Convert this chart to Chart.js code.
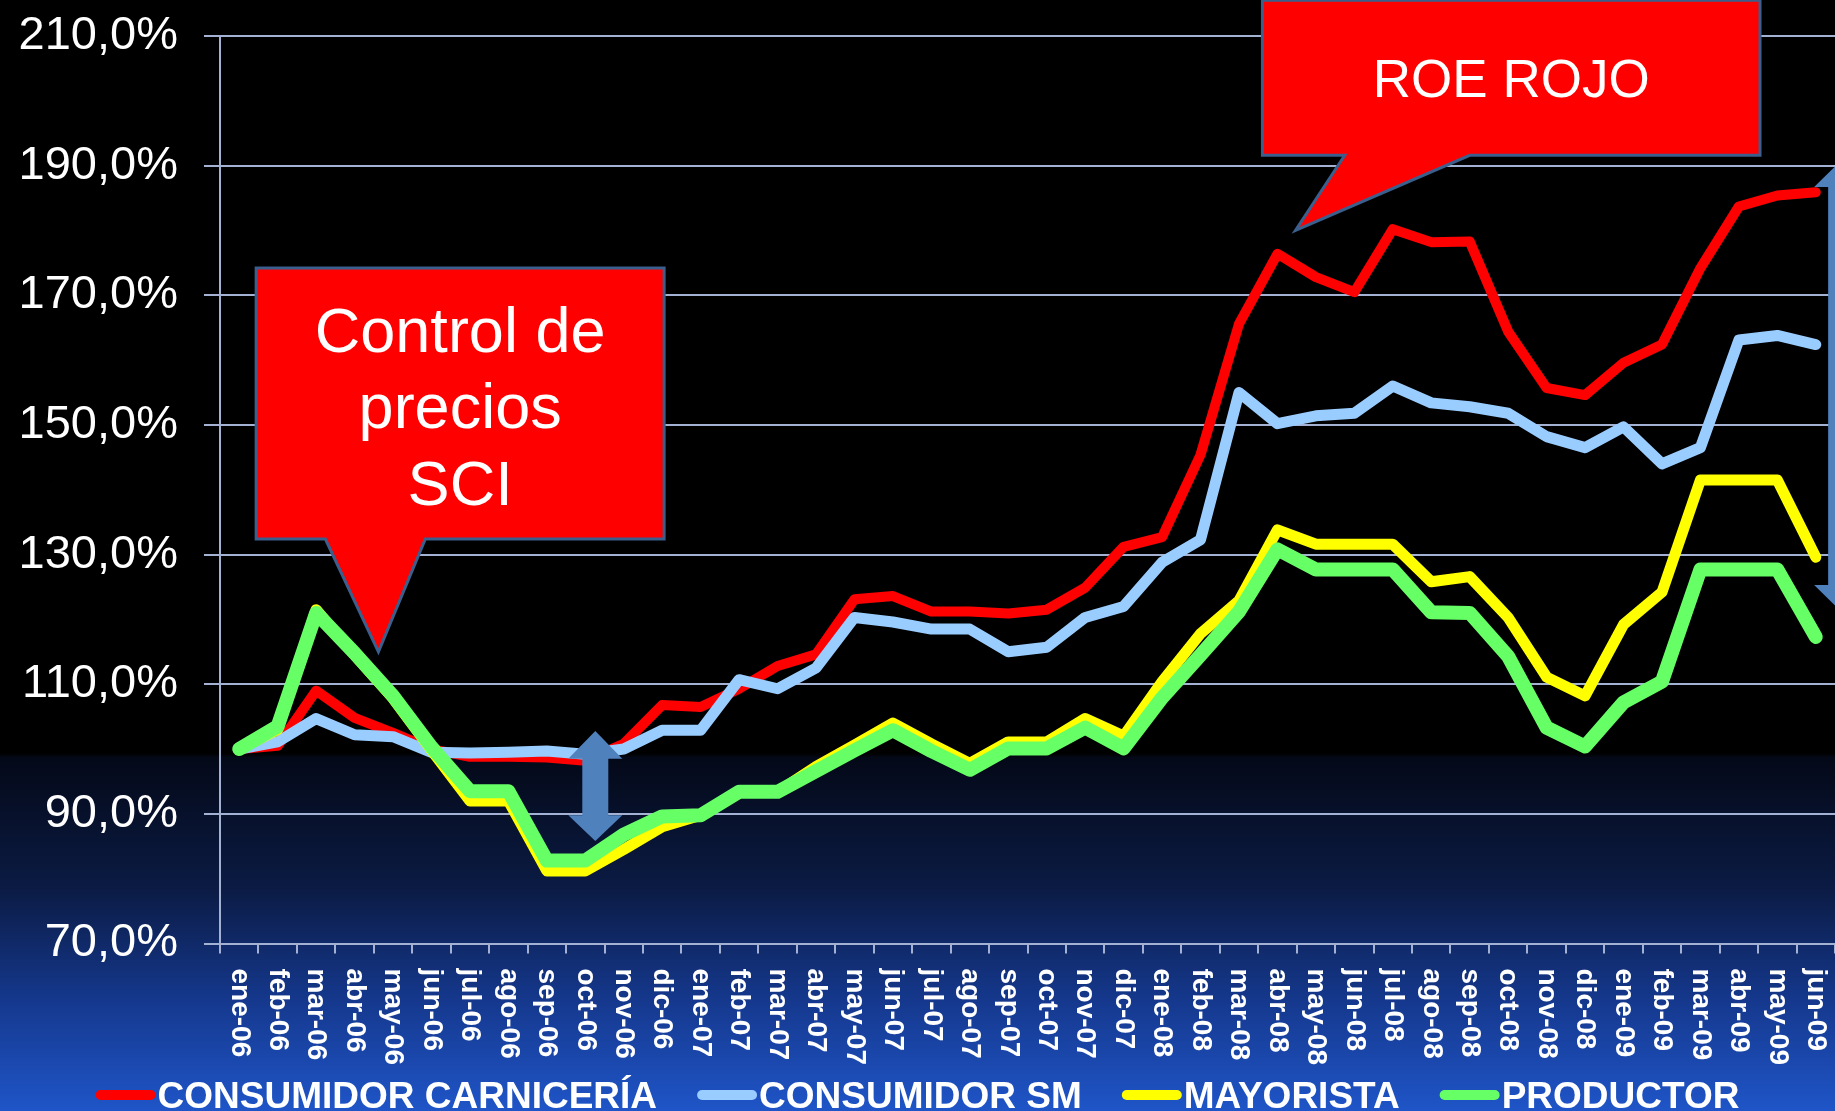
<!DOCTYPE html>
<html>
<head>
<meta charset="utf-8">
<script src="https://cdn.jsdelivr.net/npm/chart.js@4.4.1/dist/chart.umd.min.js"></script>
<style>
  html, body { margin: 0; padding: 0; background: #000; }
  #wrap { width: 1835px; height: 1111px; }
</style>
</head>
<body>
<div id="wrap"><canvas id="chart"></canvas></div>
<script>
// Month labels (x axis)
const months = [
    'ene-06', 'feb-06', 'mar-06', 'abr-06', 'may-06', 'jun-06', 'jul-06', 'ago-06', 'sep-06', 'oct-06', 'nov-06', 'dic-06',
    'ene-07', 'feb-07', 'mar-07', 'abr-07', 'may-07', 'jun-07', 'jul-07', 'ago-07', 'sep-07', 'oct-07', 'nov-07', 'dic-07',
    'ene-08', 'feb-08', 'mar-08', 'abr-08', 'may-08', 'jun-08', 'jul-08', 'ago-08', 'sep-08', 'oct-08', 'nov-08', 'dic-08',
    'ene-09', 'feb-09', 'mar-09', 'abr-09', 'may-09', 'jun-09'
];

// Series values (% of ene-06)
const consumidorCarniceria = [
    100, 100.5, 109, 104.8, 102.5, 100, 98.8, 98.8, 98.7, 98.2, 100.8, 106.8,
    106.5, 109.3, 112.8, 114.6, 123.1, 123.6, 121.2, 121.2, 120.9, 121.5, 124.9, 131.2,
    132.7, 145.4, 165.6, 176.4, 172.8, 170.5, 180.2, 178.2, 178.3, 164.4, 155.7, 154.6,
    159.6, 162.4, 174.2, 183.7, 185.4, 185.9
];
const consumidorSM = [
    100, 101.1, 104.7, 102.2, 101.9, 99.5, 99.4, 99.5, 99.7, 99.2, 100, 102.9,
    102.9, 110.7, 109.3, 112.5, 120.3, 119.6, 118.5, 118.5, 115, 115.7, 120.3, 122,
    128.8, 132.3, 155, 150.2, 151.4, 151.8, 156, 153.4, 152.8, 151.8, 148.2, 146.5,
    149.7, 144, 146.5, 163.1, 163.8, 162.4
];
const mayorista = [
    100, 103, 121.5, 114.5, 107.8, 99.8, 92, 92, 81.2, 81.2, 84.5, 88,
    89.8, 93.4, 93.4, 97.3, 100.6, 104, 100.8, 97.8, 101.1, 101.1, 104.7, 102,
    110.4, 117.8, 122.9, 133.8, 131.6, 131.6, 131.6, 125.8, 126.6, 120.3, 111.1, 108.2,
    119.2, 124.2, 141.5, 141.5, 141.5, 129.6
];
const productor = [
    100, 103.5, 121, 114.8, 108.2, 100.3, 93.5, 93.5, 82.8, 82.8, 86.8, 89.6,
    89.8, 93.4, 93.4, 96.6, 99.8, 102.9, 99.7, 96.8, 100.1, 100.1, 103.3, 100.1,
    107.9, 114.5, 121.2, 130.8, 127.7, 127.7, 127.7, 121.1, 121, 114.3, 103.3, 100.4,
    107.2, 110.4, 127.7, 127.7, 127.7, 117.3
];

// Y axis
const yMin = 70;
const yMax = 210;
const yStep = 20;

const FONT = "'Liberation Sans', Arial, sans-serif";
const gridColor = '#a3b2d2';

// Annotations, placed in data units (x = month index, y = %)
const callouts = [
    { lines: ['Control de', 'precios', 'SCI'], size: 63, offsets: [84, 160, 237],
      left: 0.44, right: 11.05, top: 174.2, bottom: 132.4,
      tailA: 2.24, tailB: 4.84, tipX: 3.62, tipY: 115.0 },
    { lines: ['ROE ROJO'], size: 53, offsets: [97],
      left: 26.61, right: 39.55, top: 215.5, bottom: 191.6,
      tailA: 28.75, tailB: 32.0, tipX: 27.47, tipY: 180.0 }
];
const arrows = [
    { x: 9.26, tip1: 102.8, head1: 98.5, head2: 89.8, tip2: 85.8 },
    { x: 41.66, tip1: 190.8, head1: 186.7, head2: 125.3, tip2: 121.2 }
];

// Background gradient
const bgPlugin = {
    id: 'bg',
    beforeDraw(chart) {
        const { ctx, width, height } = chart;
        const g = ctx.createLinearGradient(0, 0, 0, height);
        g.addColorStop(0, '#000000');
        g.addColorStop(0.678, '#000000');
        g.addColorStop(0.682, '#040918');
        g.addColorStop(0.80, '#0b1b44');
        g.addColorStop(0.90, '#15388d');
        g.addColorStop(1, '#1f55c8');
        ctx.save();
        ctx.fillStyle = g;
        ctx.fillRect(0, 0, width, height);
        ctx.restore();
    }
};

// Rotated month labels, legend, callouts and arrows
const overlayPlugin = {
    id: 'overlay',
    afterDraw(chart) {
        const { ctx } = chart;
        const xs = chart.scales.x;
        const ys = chart.scales.y;
        const X = v => xs.getPixelForValue(v);
        const Y = v => ys.getPixelForValue(v);

        // month labels, reading downwards
        ctx.save();
        ctx.fillStyle = '#ffffff';
        ctx.font = 'bold 28px ' + FONT;
        ctx.textAlign = 'left';
        ctx.textBaseline = 'middle';
        months.forEach((m, i) => {
            ctx.save();
            ctx.translate(X(i), chart.chartArea.bottom + 25);
            ctx.rotate(Math.PI / 2);
            ctx.fillText(m, 0, 0);
            ctx.restore();
        });
        ctx.restore();

        // legend
        ctx.save();
        ctx.font = 'bold 37px ' + FONT;
        ctx.textBaseline = 'alphabetic';
        const items = chart.data.datasets.map(ds => ({ label: ds.label, color: ds.borderColor, w: ctx.measureText(ds.label).width }));
        const markW = 60, markGap = 2, itemGap = 40;
        const total = items.reduce((s, it) => s + markW + markGap + it.w, 0) + itemGap * (items.length - 1);
        let x = (chart.width - total) / 2;
        const baseY = 1108;
        items.forEach(it => {
            ctx.strokeStyle = it.color;
            ctx.lineWidth = 10;
            ctx.lineCap = 'round';
            ctx.beginPath();
            ctx.moveTo(x + 5, baseY - 13);
            ctx.lineTo(x + markW - 5, baseY - 13);
            ctx.stroke();
            ctx.fillStyle = '#ffffff';
            ctx.fillText(it.label, x + markW + markGap, baseY);
            x += markW + markGap + it.w + itemGap;
        });
        ctx.restore();

        // callouts
        callouts.forEach(c => {
            const L = X(c.left), R = X(c.right), T = Y(c.top), B = Y(c.bottom);
            ctx.save();
            ctx.beginPath();
            ctx.moveTo(L, T);
            ctx.lineTo(R, T);
            ctx.lineTo(R, B);
            ctx.lineTo(X(c.tailB), B);
            ctx.lineTo(X(c.tipX), Y(c.tipY));
            ctx.lineTo(X(c.tailA), B);
            ctx.lineTo(L, B);
            ctx.closePath();
            ctx.fillStyle = '#ff0000';
            ctx.fill();
            ctx.strokeStyle = '#3b5f8d';
            ctx.lineWidth = 3;
            ctx.lineJoin = 'miter';
            ctx.stroke();
            ctx.fillStyle = '#ffffff';
            ctx.font = c.size + 'px ' + FONT;
            ctx.textAlign = 'center';
            ctx.textBaseline = 'alphabetic';
            c.lines.forEach((line, k) => ctx.fillText(line, (L + R) / 2, T + c.offsets[k]));
            ctx.restore();
        });

        // double arrows
        arrows.forEach(a => {
            const cx = X(a.x), hw = 27, sw = 13;
            const t1 = Y(a.tip1), h1 = Y(a.head1), h2 = Y(a.head2), t2 = Y(a.tip2);
            ctx.save();
            ctx.beginPath();
            ctx.moveTo(cx, t1);
            ctx.lineTo(cx + hw, h1);
            ctx.lineTo(cx + sw, h1);
            ctx.lineTo(cx + sw, h2);
            ctx.lineTo(cx + hw, h2);
            ctx.lineTo(cx, t2);
            ctx.lineTo(cx - hw, h2);
            ctx.lineTo(cx - sw, h2);
            ctx.lineTo(cx - sw, h1);
            ctx.lineTo(cx - hw, h1);
            ctx.closePath();
            ctx.fillStyle = '#4f81bd';
            ctx.fill();
            ctx.restore();
        });
    }
};

const ctx = document.getElementById('chart').getContext('2d');
new Chart(ctx, {
    type: 'line',
    data: {
        labels: months,
        datasets: [
            { label: 'CONSUMIDOR CARNICERÍA', data: consumidorCarniceria, borderColor: '#ff0000', backgroundColor: '#ff0000', borderWidth: 10, order: 4 },
            { label: 'CONSUMIDOR SM', data: consumidorSM, borderColor: '#99ccff', backgroundColor: '#99ccff', borderWidth: 11, order: 3 },
            { label: 'MAYORISTA', data: mayorista, borderColor: '#ffff00', backgroundColor: '#ffff00', borderWidth: 11, order: 2 },
            { label: 'PRODUCTOR', data: productor, borderColor: '#66ff66', backgroundColor: '#66ff66', borderWidth: 14, order: 1 }
        ]
    },
    options: {
        responsive: true,
        maintainAspectRatio: false,
        animation: false,
        layout: { padding: { top: 36, right: 0, bottom: 0, left: 0 } },
        plugins: {
            legend: { display: false },
            tooltip: { enabled: false }
        },
        elements: {
            point: { radius: 0 },
            line: { tension: 0, fill: false, borderCapStyle: 'round', borderJoinStyle: 'round' }
        },
        scales: {
            x: {
                offset: true,
                grid: { display: true, drawOnChartArea: false, drawTicks: true, tickLength: 10, color: gridColor, lineWidth: 2, offset: true },
                border: { display: true, color: gridColor, width: 2 },
                ticks: { display: false },
                afterFit(scale) { scale.height = 167.5; }
            },
            y: {
                min: yMin,
                max: yMax,
                ticks: {
                    stepSize: yStep,
                    color: '#ffffff',
                    padding: 26,
                    // small lineHeight keeps the top label from pushing the plot down
                    font: { family: FONT, size: 47, lineHeight: 0.3 },
                    callback: v => v.toFixed(1).replace('.', ',') + '%'
                },
                grid: { color: gridColor, lineWidth: 2, tickLength: 16 },
                border: { display: true, color: gridColor, width: 2 },
                afterFit(scale) { scale.width = 220; }
            }
        }
    },
    plugins: [bgPlugin, overlayPlugin]
});
</script>
</body>
</html>
